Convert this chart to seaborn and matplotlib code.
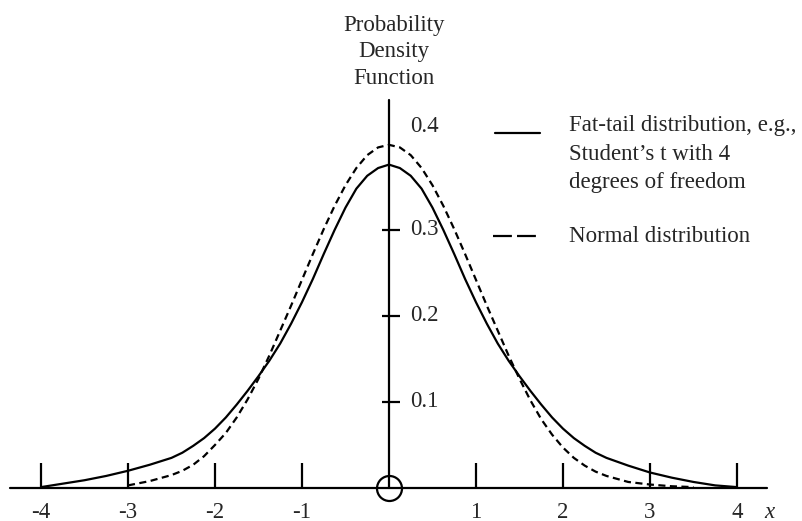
import numpy as np
import pandas as pd
import matplotlib
matplotlib.use("Agg")
import matplotlib.pyplot as plt
import seaborn as sns

# values (finer steps in the middle part)
x_fat = [-4.0, -3.75, -3.5, -3.25, -3.0, -2.75, -2.5,
         -2.375, -2.25, -2.125, -2.0, -1.875, -1.75, -1.625, -1.5, -1.375, -1.25,
         -1.125, -1.0, -0.875, -0.75, -0.625, -0.5, -0.375, -0.25, -0.125, 0.0,
         0.125, 0.25, 0.375, 0.5, 0.625, 0.75, 0.875, 1.0, 1.125, 1.25,
         1.375, 1.5, 1.625, 1.75, 1.875, 2.0, 2.125, 2.25, 2.375, 2.5,
         2.75, 3.0, 3.25, 3.5, 3.75, 4.0]
y_fat = [0.001, 0.005, 0.009, 0.014, 0.020, 0.027, 0.035,
         0.041, 0.049, 0.058, 0.069, 0.082, 0.097, 0.113, 0.130, 0.148, 0.168,
         0.191, 0.216, 0.243, 0.272, 0.300, 0.326, 0.348, 0.363, 0.372, 0.376,
         0.372, 0.363, 0.348, 0.326, 0.300, 0.272, 0.243, 0.216, 0.191, 0.168,
         0.148, 0.130, 0.113, 0.097, 0.082, 0.069, 0.058, 0.049, 0.041, 0.035,
         0.026, 0.018, 0.012, 0.007, 0.003, 0.001]

x_norm = [-3.0, -2.75, -2.5,
          -2.375, -2.25, -2.125, -2.0, -1.875, -1.75, -1.625, -1.5, -1.375, -1.25,
          -1.125, -1.0, -0.875, -0.75, -0.625, -0.5, -0.375, -0.25, -0.125, 0.0,
          0.125, 0.25, 0.375, 0.5, 0.625, 0.75, 0.875, 1.0, 1.125, 1.25,
          1.375, 1.5, 1.625, 1.75, 1.875, 2.0, 2.125, 2.25, 2.375, 2.5,
          2.75, 3.0, 3.25, 3.5]
y_norm = [0.003, 0.008, 0.015,
          0.020, 0.027, 0.037, 0.050, 0.064, 0.082, 0.103, 0.127, 0.154, 0.183,
          0.212, 0.242, 0.272, 0.301, 0.328, 0.352, 0.372, 0.387, 0.396, 0.399,
          0.396, 0.387, 0.372, 0.352, 0.328, 0.301, 0.272, 0.242, 0.212, 0.183,
          0.154, 0.127, 0.102, 0.080, 0.062, 0.047, 0.035, 0.026, 0.019, 0.014,
          0.007, 0.004, 0.002, 0.001]

x_ticks = [-4, -3, -2, -1, 1, 2, 3, 4]
y_ticks = [0.1, 0.2, 0.3]
y_labels = ["0.1", "0.2", "0.3", "0.4"]
y_label_pos = [0.1, 0.2, 0.3, 0.42]

fat_df = pd.DataFrame({"x": x_fat, "pdf": y_fat})
norm_df = pd.DataFrame({"x": x_norm, "pdf": y_norm})

sns.set_style("white")
plt.rcParams['font.family'] = ['Liberation Serif', 'DejaVu Serif']

fig = plt.figure(figsize=(8.03, 5.21), dpi=100)
ax = fig.add_axes([0, 0, 1, 1])
ax.set_axis_off()
ax.set_xlim(-4.471, 4.759)
ax.set_ylim(-0.0384, 0.5674)

lw = 1.6
dash = (0, (3.2, 2.0))

# the two curves
sns.lineplot(data=fat_df, x="x", y="pdf", ax=ax, color="black", linewidth=lw)
sns.lineplot(data=norm_df, x="x", y="pdf", ax=ax, color="black", linewidth=lw,
             linestyle=dash)

# hand drawn style axes
ax.plot([-4.356, 4.345], [0, 0], color="black", lw=lw)
ax.plot([0, 0], [0, 0.451], color="black", lw=lw)
ax.vlines(x_ticks, 0, 0.029, color="black", lw=lw)
ax.hlines(y_ticks, -0.08, 0.126, color="black", lw=lw)
ax.plot([0], [0], marker="o", ms=18, mfc="none", mec="black", mew=lw)

fs = 16.5
for t in x_ticks:
    ax.text(t, -0.028, str(t), ha="center", va="center", fontsize=fs)
ax.text(4.37, -0.029, "x", ha="center", va="center", fontsize=fs, style="italic")
for lab, pos in zip(y_labels, y_label_pos):
    ax.text(0.241, pos, lab, ha="left", va="center", fontsize=fs)

ax.text(0.057, 0.507, "Probability\nDensity\nFunction", ha="center", va="center",
        fontsize=fs, linespacing=1.32)

# legend drawn by hand
ax.plot([1.218, 1.736], [0.413, 0.413], color="black", lw=lw)
ax.text(2.069, 0.388, "Fat-tail distribution, e.g.,\nStudent\u2019s t with 4\ndegrees of freedom",
        ha="left", va="center", fontsize=fs, linespacing=1.47)
ax.plot([1.195, 1.7], [0.293, 0.293], color="black", lw=lw, linestyle=(0, (8.5, 2.3)))
ax.text(2.069, 0.292, "Normal distribution", ha="left", va="center", fontsize=fs)

plt.savefig("out.png", dpi=100)
